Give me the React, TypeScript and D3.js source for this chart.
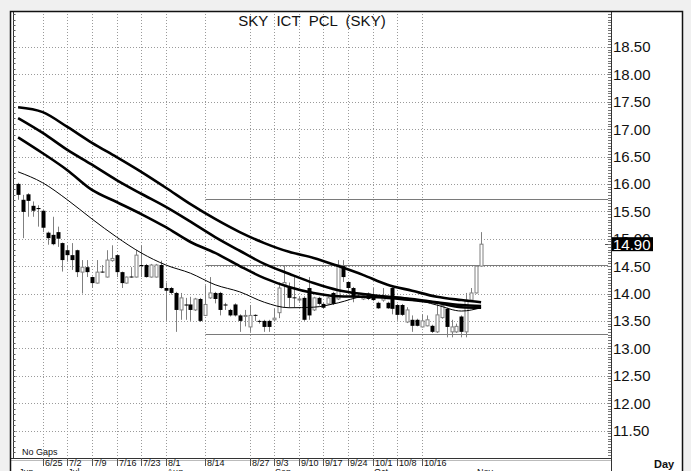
import React from "react";
import * as d3 from "d3";

// ---- Data ----
const opens = [16.0,15.71,15.81,15.6,15.56,15.51,15.11,15.07,15.12,14.92,14.79,14.7,14.79,14.39,14.48,14.3,14.19,14.4,14.3,14.6,14.7,14.39,14.19,14.31,14.3,14.52,14.52,14.3,14.3,14.52,14.1,14.1,14.01,13.7,13.8,13.8,13.7,13.9,13.6,13.92,14.01,14.01,13.8,13.7,13.8,13.6,13.6,13.39,13.61,13.5,13.5,13.5,13.52,13.65,14.15,14.1,13.93,13.9,13.92,14.1,13.7,13.92,13.81,13.81,14.01,13.9,14.5,14.21,14.1,13.96,13.9,14.0,13.95,13.83,13.88,13.83,14.1,13.79,13.79,13.48,13.52,13.52,13.39,13.41,13.41,13.3,13.56,13.72,13.3,13.3,13.58,13.3,13.88,14.01,14.5];
const highs = [16.02,15.8,15.83,15.68,15.61,15.52,15.13,15.4,15.22,14.93,14.88,14.92,14.8,14.61,14.61,14.31,14.61,14.52,14.79,14.88,14.71,14.4,14.31,14.48,14.79,14.88,14.54,14.54,14.54,14.6,14.2,14.12,14.03,14.01,13.92,13.94,13.92,13.92,14.15,14.3,14.03,14.03,13.83,13.72,13.82,13.62,13.7,13.79,13.62,13.52,13.52,13.52,13.72,14.2,14.52,14.2,14.3,13.95,13.95,14.3,13.94,13.94,13.83,13.94,14.03,14.61,14.61,14.22,14.12,13.98,13.98,14.02,14.1,13.85,14.1,13.85,14.12,13.81,13.81,13.75,13.6,13.54,13.62,13.6,13.43,13.8,13.82,13.74,13.52,13.45,13.6,14.01,14.1,14.52,15.12];
const lows = [15.71,15.01,15.4,15.4,15.22,15.12,14.89,14.88,14.85,14.4,14.58,14.43,14.3,14.0,14.3,14.1,14.18,14.38,14.29,14.58,14.3,14.1,14.18,14.29,14.29,14.3,14.29,14.29,14.29,14.09,13.5,13.98,13.3,13.52,13.52,13.5,13.68,13.48,13.59,13.9,13.82,13.6,13.7,13.58,13.58,13.3,13.4,13.3,13.5,13.45,13.3,13.3,13.5,13.55,13.75,13.75,13.75,13.85,13.5,13.52,13.68,13.78,13.72,13.8,13.79,13.88,14.21,14.0,13.84,13.92,13.88,13.88,13.86,13.72,13.85,13.72,13.62,13.52,13.59,13.46,13.3,13.4,13.38,13.4,13.28,13.28,13.54,13.2,13.2,13.28,13.2,13.2,13.85,14.0,14.5];
const closes = [15.8,15.49,15.69,15.51,15.54,15.2,15.01,14.9,15.0,14.61,14.7,14.61,14.39,14.48,14.39,14.19,14.39,14.39,14.61,14.64,14.39,14.19,14.3,14.3,14.7,14.5,14.3,14.52,14.52,14.1,14.05,14.01,13.7,13.92,13.78,13.7,13.9,13.5,13.8,14.01,13.9,13.7,13.78,13.6,13.6,13.5,13.6,13.6,13.6,13.49,13.39,13.39,13.55,14.1,14.2,13.92,13.92,13.9,13.52,13.6,13.92,13.81,13.74,13.92,13.81,14.52,14.3,14.1,13.93,13.95,13.96,13.9,13.88,13.73,13.95,13.73,13.72,13.61,13.61,13.7,13.41,13.41,13.5,13.52,13.3,13.61,13.78,13.39,13.39,13.4,13.3,13.88,14.01,14.5,14.9];

// Moving averages, read at every 5th session (last at session 94)
const maIndex = [0,5,10,15,20,25,30,35,40,45,50,55,60,65,70,75,80,85,90,94];
const maLong = [17.4,17.31,17.04,16.75,16.49,16.22,15.93,15.63,15.36,15.12,14.92,14.76,14.65,14.5,14.34,14.16,14.05,13.94,13.88,13.84];
const maMid = [17.2,16.93,16.62,16.35,16.07,15.82,15.58,15.31,15.03,14.78,14.54,14.36,14.19,14.06,13.99,13.94,13.9,13.84,13.79,13.77];
const maShort = [16.85,16.56,16.25,15.89,15.67,15.45,15.21,14.94,14.74,14.5,14.28,14.12,14.01,13.95,13.94,13.92,13.88,13.83,13.75,13.74];
const maFast = [16.22,16.02,15.71,15.36,15.03,14.74,14.52,14.37,14.16,14.03,13.84,13.74,13.75,13.83,13.94,13.95,13.9,13.79,13.68,13.74];

const levelLines = [15.72, 14.52, 13.27];
const levelStart = 38;

const dateLabels = ["6/25","7/2","7/9","7/16","7/23","8/1","8/14","8/27","9/3","9/10","9/17","9/24","10/1","10/8","10/16"];
const dateIndex = [5,10,15,20,25,30,38,47,52,57,62,67,72,77,82];
const monthLabels = ["Jun","Jul","Aug","Sep","Oct","Nov"];
const monthIndex = [0,10,30,52,72,93];
const priceTicks = [11.5,12,12.5,13,13.5,14,14.5,15,15.5,16,16.5,17,17.5,18,18.5];
const lastPrice = 14.9;
const title = "SKY  ICT  PCL  (SKY)";

export default function App() {
  const W = 691, H = 471;
  const left = 13, right = 611, top = 11, bottom = 458;
  const x = d3.scaleLinear().domain([0, 94]).range([18.1, 481.1]);
  const y = d3.scaleLinear().domain([11, 19]).range([457.9, 19.5]);

  const line = d3.line<number>()
    .x((_, i) => x(maIndex[i]))
    .y((d) => y(d))
    .curve(d3.curveMonotoneX);

  const minorTicks = d3.range(110, 192, 1).map((v) => v / 10);
  const fineTicks = d3.range(220, 383, 1).map((v) => v / 20);
  const font = "Liberation Sans, Arial, sans-serif";

  return (
    <svg width={W} height={H} style={{ position: "absolute", left: 0, top: 0, background: "#fff" }} fontFamily={font}>
      <rect x={0} y={0} width={W} height={H} fill="#f0f0f0" />
      <rect x={11} y={11} width={671} height={H} fill="#fff" />
      {/* grid */}
      {priceTicks.map((p) => (
        <line key={"hg" + p} x1={left} x2={right} y1={Math.round(y(p)) + 0.5} y2={Math.round(y(p)) + 0.5} stroke="#9a9a9a" strokeDasharray="1,2" />
      ))}
      {dateIndex.map((i) => (
        <line key={"vg" + i} x1={Math.round(x(i)) + 0.5} x2={Math.round(x(i)) + 0.5} y1={top} y2={bottom} stroke="#9a9a9a" strokeDasharray="1,2" />
      ))}
      {/* level lines */}
      {levelLines.map((p) => (
        <line key={"lv" + p} x1={Math.round(x(levelStart)) + 0.5} x2={608} y1={Math.round(y(p)) + 0.5} y2={Math.round(y(p)) + 0.5} stroke="#7a7a7a" strokeWidth={1} />
      ))}
      {/* candles */}
      {closes.map((c, i) => {
        const o = opens[i], hi = highs[i], lo = lows[i];
        const cx = Math.round(x(i)) + 0.5;
        const yt = y(Math.max(o, c)), yb = y(Math.min(o, c));
        const bh = Math.max(1, yb - yt);
        const up = c >= o;
        return (
          <g key={"c" + i}>
            <line x1={cx} x2={cx} y1={y(hi)} y2={y(lo)} stroke="#808080" strokeWidth={1} />
            {up ? (
              <rect x={cx - 1.5} y={yt} width={3} height={bh} fill="#fff" stroke="#808080" strokeWidth={1} />
            ) : (
              <rect x={cx - 2} y={yt} width={4} height={bh} fill="#000" />
            )}
          </g>
        );
      })}
      {/* moving averages */}
      <path d={line(maLong) || ""} fill="none" stroke="#000" strokeWidth={2.6} />
      <path d={line(maMid) || ""} fill="none" stroke="#000" strokeWidth={2.6} />
      <path d={line(maShort) || ""} fill="none" stroke="#000" strokeWidth={2.6} />
      <path d={line(maFast) || ""} fill="none" stroke="#000" strokeWidth={1} />
      {/* axes */}
      <line x1={left + 0.5} x2={left + 0.5} y1={top} y2={bottom} stroke="#333" />
      {minorTicks.map((p) => (
        <line key={"lt" + p} x1={left} x2={left + 2.5} y1={Math.round(y(p)) + 0.5} y2={Math.round(y(p)) + 0.5} stroke="#555" />
      ))}
      <line x1={right + 0.5} x2={right + 0.5} y1={top} y2={H} stroke="#333" />
      {fineTicks.map((p) => (
        <line key={"rt" + p} x1={right - 3} x2={right} y1={Math.round(y(p)) + 0.5} y2={Math.round(y(p)) + 0.5} stroke="#777" />
      ))}
      <line x1={11} x2={right} y1={bottom + 0.5} y2={bottom + 0.5} stroke="#333" />
      <line x1={11} x2={right} y1={bottom + 2.5} y2={bottom + 2.5} stroke="#bbb" />
      {/* frame */}
      <rect x={10.5} y={11.5} width={672} height={H} fill="none" stroke="#111" strokeWidth={1.5} />
      {/* title */}
      <text x={312} y={26} textAnchor="middle" fontSize={15} fill="#111" style={{ whiteSpace: "pre" }} xmlSpace="preserve">{title}</text>
      {/* price labels */}
      {priceTicks.map((p) => (
        <text key={"pl" + p} x={613} y={y(p) + 5.5} fontSize={15} fill="#111">{p.toFixed(2)}</text>
      ))}
      <rect x={612} y={y(lastPrice) - 7} width={41} height={14} fill="#000" />
      <text x={613} y={y(lastPrice) + 5.5} fontSize={15} fill="#fff">{lastPrice.toFixed(2)}</text>
      <line x1={605} x2={608} y1={Math.round(y(lastPrice)) + 0.5} y2={Math.round(y(lastPrice)) + 0.5} stroke="#555" />
      {/* x labels */}
      <text x={22} y={455} fontSize={9} fill="#111">No  Gaps</text>
      {dateLabels.map((l, k) => {
        const px = Math.round(x(dateIndex[k])) + 0.5;
        return (
          <g key={"dl" + l}>
            <line x1={px} x2={px} y1={bottom} y2={bottom + 8} stroke="#555" />
            <text x={px + 1.5} y={465.5} fontSize={9} fill="#111">{l}</text>
          </g>
        );
      })}
      {monthLabels.map((l, k) => (
        <text key={"ml" + l} x={Math.round(x(monthIndex[k])) + 1} y={474.5} fontSize={9} fill="#111">{l}</text>
      ))}
      <text x={654} y={468} fontSize={11} fontWeight="bold" fill="#111">Day</text>
    </svg>
  );
}
